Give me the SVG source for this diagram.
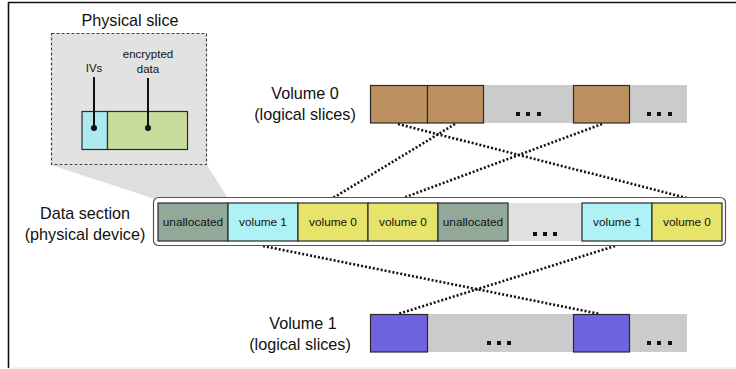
<svg xmlns="http://www.w3.org/2000/svg" width="736" height="369" viewBox="0 0 736 369">
  <style>
    text { font-family: "Liberation Sans", Arial, sans-serif; fill: #111; }
    .lbl { font-size: 16.2px; text-anchor: middle; }
    .cell { font-size: 11.8px; text-anchor: middle; }
    .small { font-size: 11.5px; text-anchor: middle; }
    .box { stroke: #2a2a2a; stroke-width: 1.2; }
    .link { fill: none; stroke: #111; stroke-width: 2.6; stroke-dasharray: 2 2; }
    .dot { fill: #111; }
  </style>

  <rect x="0" y="0" width="736" height="369" fill="#fff"/>
  <!-- frame -->
  <line x1="8" y1="2.5" x2="736" y2="2.5" stroke="#111" stroke-width="1.6"/>
  <line x1="8.5" y1="2" x2="8.5" y2="368" stroke="#111" stroke-width="1.6"/>
  <line x1="9" y1="368" x2="736" y2="368" stroke="#e6e6e6" stroke-width="1"/>

  <!-- zoom projection from the bar to the slice detail -->
  <polygon points="51,165 207,165 229,200 158,200" fill="#dedede"/>

  <!-- Physical slice detail -->
  <g id="physical-slice">
    <text class="lbl" x="130" y="26">Physical slice</text>
    <rect x="51.5" y="33.5" width="155" height="131" fill="#e2e2e2" stroke="#444" stroke-width="1.2" stroke-dasharray="3 2"/>
    <rect class="box" x="82" y="111.5" width="25.5" height="38" fill="#ade9ee"/>
    <rect class="box" x="107.5" y="111.5" width="80" height="38" fill="#c8dd9c"/>
    <text class="small" x="94" y="72">IVs</text>
    <text class="small" x="148" y="58">encrypted</text>
    <text class="small" x="148" y="73">data</text>
    <line x1="94" y1="77" x2="94" y2="128" stroke="#111" stroke-width="2"/>
    <line x1="148" y1="78" x2="148" y2="128" stroke="#111" stroke-width="2"/>
    <circle cx="94" cy="128" r="3" fill="#111"/>
    <circle cx="148" cy="128" r="3" fill="#111"/>
  </g>

  <!-- connectors -->
  <g id="connectors">
    <line class="link" x1="398" y1="124" x2="687" y2="198"/>
    <line class="link" x1="455" y1="124" x2="333" y2="198"/>
    <line class="link" x1="602" y1="124" x2="403" y2="198"/>
    <line class="link" x1="263" y1="246" x2="600" y2="314"/>
    <line class="link" x1="615" y1="246" x2="398" y2="314"/>
  </g>

  <!-- Volume 0 logical slices -->
  <g id="volume0">
    <text class="lbl" x="305" y="99">Volume 0</text>
    <text class="lbl" x="305" y="120">(logical slices)</text>
    <rect x="483" y="85" width="204" height="38" fill="#cbcbcb"/>
    <rect class="box" x="370.5" y="85.5" width="57" height="37.5" fill="#bd915f"/>
    <rect class="box" x="427.5" y="85.5" width="56" height="37.5" fill="#bd915f"/>
    <rect class="box" x="573.5" y="85.5" width="56" height="37.5" fill="#bd915f"/>
    <rect class="dot" x="516" y="112" width="4" height="4"/>
    <rect class="dot" x="526" y="112" width="4" height="4"/>
    <rect class="dot" x="537" y="112" width="4" height="4"/>
    <rect class="dot" x="647" y="112" width="4" height="4"/>
    <rect class="dot" x="657" y="112" width="4" height="4"/>
    <rect class="dot" x="668" y="112" width="4" height="4"/>
  </g>

  <!-- Data section -->
  <g id="data-section">
    <text class="lbl" x="85" y="219">Data section</text>
    <text class="lbl" x="85" y="240">(physical device)</text>
    <rect x="153.5" y="197.5" width="572" height="48" rx="5" fill="#fff" stroke="#555" stroke-width="1.2"/>
    <rect x="508" y="203" width="74" height="38" fill="#e0e0e0"/>
    <rect class="box" x="158" y="203" width="70" height="38" fill="#92a999"/>
    <rect class="box" x="228" y="203" width="70" height="38" fill="#aef2f5"/>
    <rect class="box" x="298" y="203" width="70" height="38" fill="#e6e46a"/>
    <rect class="box" x="368" y="203" width="70" height="38" fill="#e6e46a"/>
    <rect class="box" x="438" y="203" width="70" height="38" fill="#92a999"/>
    <rect class="box" x="582" y="203" width="70" height="38" fill="#aef2f5"/>
    <rect class="box" x="652" y="203" width="70" height="38" fill="#e6e46a"/>
    <text class="cell" x="193" y="226">unallocated</text>
    <text class="cell" x="263" y="226">volume 1</text>
    <text class="cell" x="333" y="226">volume 0</text>
    <text class="cell" x="403" y="226">volume 0</text>
    <text class="cell" x="473" y="226">unallocated</text>
    <text class="cell" x="617" y="226">volume 1</text>
    <text class="cell" x="687" y="226">volume 0</text>
    <rect class="dot" x="533" y="232" width="4" height="4"/>
    <rect class="dot" x="543" y="232" width="4" height="4"/>
    <rect class="dot" x="553" y="232" width="4" height="4"/>
  </g>

  <!-- Volume 1 logical slices -->
  <g id="volume1">
    <text class="lbl" x="303" y="329">Volume 1</text>
    <text class="lbl" x="300" y="350">(logical slices)</text>
    <rect x="427" y="314" width="260" height="38" fill="#cbcbcb"/>
    <rect class="box" x="370.5" y="314.5" width="57" height="37.5" fill="#6e63e0"/>
    <rect class="box" x="573.5" y="314.5" width="56" height="37.5" fill="#6e63e0"/>
    <rect class="dot" x="487" y="341" width="4" height="4"/>
    <rect class="dot" x="497" y="341" width="4" height="4"/>
    <rect class="dot" x="507" y="341" width="4" height="4"/>
    <rect class="dot" x="647" y="341" width="4" height="4"/>
    <rect class="dot" x="657" y="341" width="4" height="4"/>
    <rect class="dot" x="668" y="341" width="4" height="4"/>
  </g>
</svg>
